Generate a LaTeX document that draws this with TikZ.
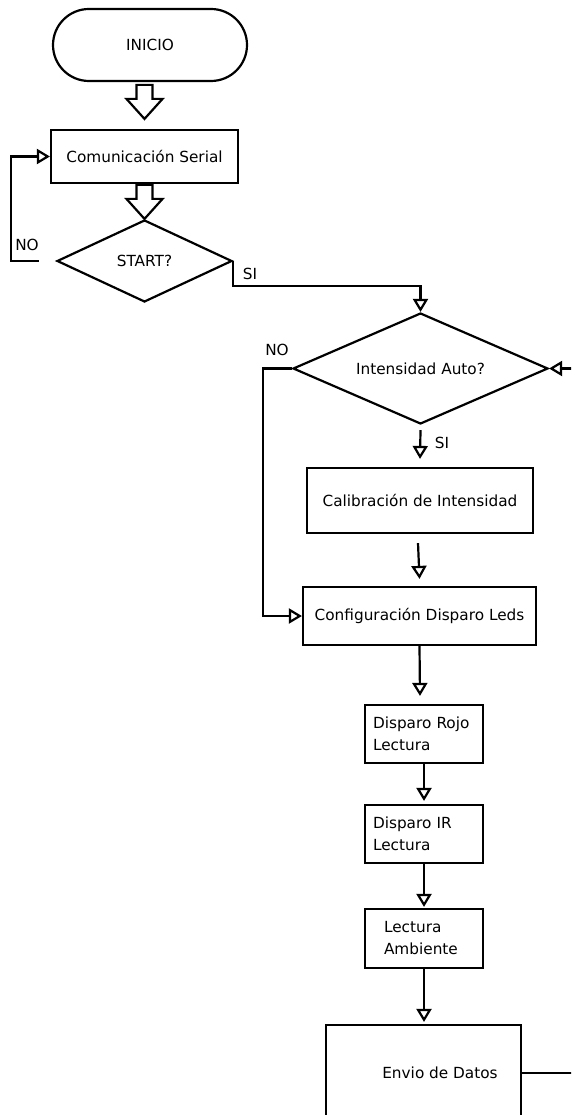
\documentclass[tikz,border=0pt]{standalone}
\usepackage{fontspec}
\setmainfont{DejaVu Sans}
\usetikzlibrary{shapes.geometric,shapes.misc,arrows.meta,calc}
\newcommand{\fsz}{\fontsize{15.3}{22}\selectfont}
\begin{document}
\begin{tikzpicture}[x=1pt,y=-1pt,
  lw/.style={line width=2.2pt},
  term/.style={rounded rectangle, draw, lw, inner sep=0pt, font=\fsz},
  proc/.style={rectangle, draw, lw, inner sep=0pt, font=\fsz},
  dec/.style={diamond, draw, lw, inner sep=0pt, font=\fsz},
  conn/.style={lw, -{Triangle[open,length=13pt,width=15pt]}},
  lbl/.style={inner sep=0pt, font=\fsz},
  blockarrow/.pic={\draw[lw, line join=miter] (-8,-34) -- (8,-34) -- (8,-20) -- (18,-20) -- (0,0) -- (-18,-20) -- (-8,-20) -- cycle;}
]
\useasboundingbox (0,0) rectangle (571,1115);
\clip (0,0) rectangle (571,1115);

% nodes
\node[term, minimum width=194, minimum height=72] (inicio) at (150,45) {INICIO};
\node[proc, minimum width=187, minimum height=53] (com) at (144.5,156.5) {Comunicación Serial};
\node[dec, minimum width=175, minimum height=82, aspect=2.13] (start) at (144.5,261) {START?};
\node[dec, minimum width=255, minimum height=111, aspect=2.3] (int) at (420.5,368.5) {Intensidad Auto?};
\node[proc, minimum width=226, minimum height=65] (cal) at (420,500.5) {Calibración de Intensidad};
\node[proc, minimum width=233, minimum height=58] (cfg) at (419.5,616) {Configuración Disparo Leds};
\node[proc, minimum height=58, text width=102, inner xsep=8, align=left] (rojo) at (424,734) {Disparo Rojo\\Lectura};
\node[proc, minimum height=58, text width=102, inner xsep=8, align=left] (ir) at (424,834) {Disparo IR\\Lectura};
\node[proc, minimum height=59, text width=80, inner xsep=19, align=left] (amb) at (424,938.5) {Lectura\\Ambiente};
\node[proc, minimum width=195, minimum height=96] (envio) at (423.5,1073) {};
\node[lbl] (envioT) at (440,1073) {Envio de Datos};

% block arrows
\pic at ($(com.north)+(0,-10)$) {blockarrow};
\pic at (start.north) {blockarrow};

% connectors
\coordinate (noS) at ($(start.west)+(-17,0)$);
\draw[conn] (noS) -- ++(-28,0) |- (com.west);
\node[lbl] (noL1) at (27,245) {NO};

\draw[conn] (start.east) -- ++(0,25) -| (int.north);
\node[lbl] (siL1) at (250,274) {SI};

\draw[conn] (int.west) -- ++(-29,0) |- (cfg.west);
\node[lbl] (noL2) at (277,350) {NO};

\coordinate (siA) at ($(int.south)+(0,5)$);
\coordinate (siB) at ($(cal.north)+(0,-8)$);
\draw[conn] (siA) -- (siB);
\node[lbl] (siL2) at (442,443) {SI};

\coordinate (cA) at ($(cal.south)+(-2,9)$);
\coordinate (cB) at ($(cfg.north)+(0,-7)$);
\draw[conn] (cA) -- (cB);

\coordinate (fB) at ($(rojo.north)+(-4,-8)$);
\draw[conn] (cfg.south) -- (fB);

\coordinate (rB) at ($(ir.north)+(0,-3)$);
\draw[conn] (rojo.south) -- (rB);

\coordinate (iB) at ($(amb.north)+(0,-1)$);
\draw[conn] (ir.south) -- (iB);

\coordinate (aB) at ($(envio.north)+(0.5,-2)$);
\draw[conn] (amb.south) -- (aB);

\draw[conn] (envio.east) -- ++(57,0) |- (int.east);
\end{tikzpicture}
\end{document}
